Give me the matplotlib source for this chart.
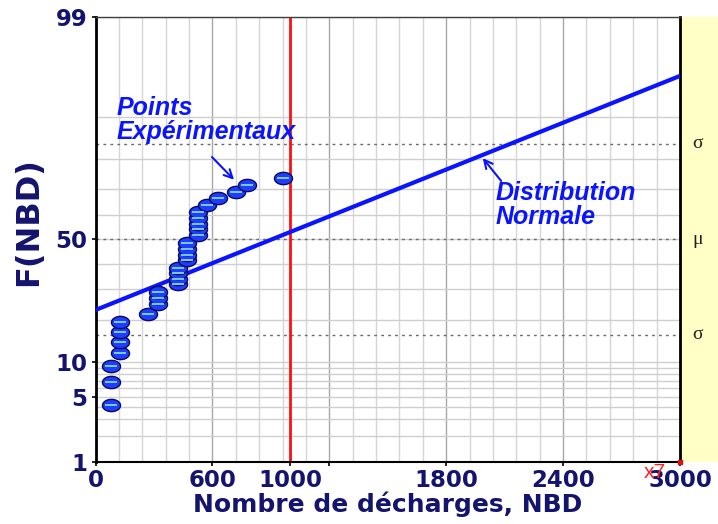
import math
import numpy as np
import matplotlib
matplotlib.use("Agg")
import matplotlib.pyplot as plt
from matplotlib.path import Path
from matplotlib.patches import Rectangle
from matplotlib.ticker import FixedLocator, MultipleLocator, NullFormatter

# experimental points (NBD, cumulative frequency in %)
nbd_points = [78, 78, 78, 126, 126, 126, 126, 271, 322, 322, 322,
              425, 425, 425, 425, 468, 468, 468, 468,
              528, 528, 528, 528, 528, 571, 630, 721, 776, 964]
freq_points = [4.2, 6.8, 9.3, 11.7, 14.1, 16.6, 19.3, 21.7, 24.9, 26.9, 29.2,
               32.0, 34.0, 36.1, 38.3, 41.4, 43.5, 45.8, 48.3,
               51.8, 54.1, 56.3, 58.7, 61.1, 64.0, 66.6, 69.0, 71.5, 73.8]

# fitted normal distribution (straight line on probability paper)
fit_nbd = [0, 3000]
fit_freq = [23.0, 95.6]

nbd_limit = 1000

x_ticks = [0, 600, 1000, 1200, 1800, 2400, 3000]
x_tick_labels = ["0", "600", "1000", "", "1800", "2400", "3000"]
y_ticks = [1, 5, 10, 50, 99]
y_minor = [2, 3, 4, 6, 7, 8, 9, 20, 30, 40, 60, 70, 80, 90]
ref_levels = [15.87, 50, 84.13]
ref_labels = ["σ", "μ", "σ"]

NAVY = "#14146e"
BLUE = "#0a14ff"


def ppf(p):
    # inverse normal cdf (Acklam), p in percent
    p = np.asarray(p, dtype=float)
    shape = p.shape
    p = np.clip(np.atleast_1d(p) / 100.0, 1e-12, 1 - 1e-12)
    a = [-3.969683028665376e+01, 2.209460984245205e+02, -2.759285104469687e+02,
         1.383577518672690e+02, -3.066479806614716e+01, 2.506628277459239e+00]
    b = [-5.447609879822406e+01, 1.615858368580409e+02, -1.556989798598866e+02,
         6.680131188771972e+01, -1.328068155288572e+01]
    c = [-7.784894002430293e-03, -3.223964580411365e-01, -2.400758277161838e+00,
         -2.549732539343734e+00, 4.374664141464968e+00, 2.938163982698783e+00]
    d = [7.784695709041462e-03, 3.224671290700398e-01, 2.445134137142996e+00,
         3.754408661907416e+00]
    plow = 0.02425
    z = np.empty_like(p)
    lo = p < plow
    hi = p > 1 - plow
    mid = ~(lo | hi)
    q = np.sqrt(-2 * np.log(p[lo]))
    z[lo] = (((((c[0]*q+c[1])*q+c[2])*q+c[3])*q+c[4])*q+c[5]) / ((((d[0]*q+d[1])*q+d[2])*q+d[3])*q+1)
    q = np.sqrt(-2 * np.log(1 - p[hi]))
    z[hi] = -(((((c[0]*q+c[1])*q+c[2])*q+c[3])*q+c[4])*q+c[5]) / ((((d[0]*q+d[1])*q+d[2])*q+d[3])*q+1)
    q = p[mid] - 0.5
    r = q * q
    z[mid] = (((((a[0]*r+a[1])*r+a[2])*r+a[3])*r+a[4])*r+a[5])*q / (((((b[0]*r+b[1])*r+b[2])*r+b[3])*r+b[4])*r+1)
    return z.reshape(shape)


_erf = np.vectorize(math.erf)


def cdf(z):
    z = np.asarray(z, dtype=float)
    return 50.0 * (1 + _erf(z / math.sqrt(2)))


def ellipse_marker():
    t = np.linspace(0, 2 * np.pi, 60)
    verts = np.column_stack([np.cos(t), 0.68 * np.sin(t)])
    return Path(verts, closed=True)


def main():
    fig = plt.figure(figsize=(7.18, 5.24), dpi=100)
    ax = fig.add_axes([95.5 / 718, 62 / 524, 584.5 / 718, 445.5 / 524])

    ax.set_xlim(0, 3000)
    ax.set_yscale("function", functions=(ppf, cdf))
    ax.set_ylim(1, 99)

    # grid
    ax.xaxis.set_major_locator(FixedLocator(x_ticks))
    ax.set_xticklabels(x_tick_labels)
    ax.xaxis.set_minor_locator(MultipleLocator(120))
    ax.yaxis.set_major_locator(FixedLocator(y_ticks))
    ax.set_yticklabels([str(v) for v in y_ticks])
    ax.yaxis.set_minor_locator(FixedLocator(y_minor))
    ax.yaxis.set_minor_formatter(NullFormatter())
    ax.grid(axis="x", which="minor", color="#d6d6d6", lw=1)
    ax.grid(axis="x", which="major", color="#a8a8a8", lw=1)
    ax.grid(axis="y", which="both", color="#cfcfcf", lw=1)
    ax.set_axisbelow(True)

    for lev in ref_levels:
        ax.axhline(lev, color="#6a6a6a", lw=1, ls=(0, (2, 3)), zorder=1.5)

    ax.axvline(nbd_limit, color="#ff1010", lw=2, zorder=2)

    # fitted line
    ax.plot(fit_nbd, fit_freq, color=BLUE, lw=3, zorder=3, solid_capstyle="butt")

    # experimental points
    ax.plot(nbd_points, freq_points, ls="none", marker=ellipse_marker(), markersize=13,
            markerfacecolor="#1f3cff", markeredgecolor="#0c0c5a", markeredgewidth=1, zorder=4)
    ax.plot(nbd_points, freq_points, ls="none", marker="_", markersize=8.5,
            markeredgecolor="#86e6ff", markeredgewidth=1.2, zorder=5)

    # annotations
    ax.text(0.036, 0.822, "Points\nExpérimentaux", transform=ax.transAxes, ha="left", va="top",
            color=BLUE, fontsize=18, fontweight="bold", fontstyle="italic",
            family="Liberation Sans", linespacing=1.0)
    ax.annotate("", xy=(0.2404, 0.629), xytext=(0.196, 0.689), xycoords="axes fraction",
                arrowprops=dict(arrowstyle="->,head_length=0.6,head_width=0.3", color=BLUE, lw=1.5))
    ax.text(0.685, 0.630, "Distribution\nNormale", transform=ax.transAxes, ha="left", va="top",
            color=BLUE, fontsize=18, fontweight="bold", fontstyle="italic",
            family="Liberation Sans", linespacing=1.0)
    ax.annotate("", xy=(0.6596, 0.687), xytext=(0.697, 0.626), xycoords="axes fraction",
                arrowprops=dict(arrowstyle="->,head_length=0.6,head_width=0.3", color=BLUE, lw=1.5))

    # yellow side panel with sigma / mu marks
    ax.add_patch(Rectangle((1, 0), 0.07, 1, transform=ax.transAxes, facecolor="#ffffc6",
                           edgecolor="none", clip_on=False, zorder=0))
    trans = ax.get_yaxis_transform()
    for lev, lab in zip(ref_levels, ref_labels):
        ax.text(1.03, lev, lab, transform=trans, ha="center", va="center",
                fontsize=14, family="Liberation Serif", color="#202020")

    ax.text(0.957, -0.002, "x7", transform=ax.transAxes, ha="center", va="top",
            color="#ff2020", fontsize=15, family="Liberation Sans", zorder=6)
    ax.plot([1], [0], "s", color="#e01010", markersize=3, transform=ax.transAxes, clip_on=False, zorder=6)

    # spines and ticks
    ax.spines["left"].set_linewidth(2)
    ax.spines["right"].set_linewidth(2)
    ax.spines["bottom"].set_linewidth(1.5)
    ax.spines["top"].set_color("#404040")
    ax.spines["top"].set_linewidth(1)
    ax.tick_params(axis="both", which="major", length=3, width=1.2, labelsize=16.5,
                   labelcolor=NAVY, pad=3)
    ax.tick_params(axis="x", which="major", pad=2)
    ax.tick_params(axis="both", which="minor", length=0)
    for lab in ax.get_xticklabels() + ax.get_yticklabels():
        lab.set_fontweight("bold")

    ax.set_xlabel("Nombre de décharges, NBD", fontsize=18, fontweight="bold", color=NAVY, labelpad=0)
    ax.set_ylabel("F(NBD)", fontsize=23, fontweight="bold", color=NAVY)
    ax.yaxis.set_label_coords(-0.088, 0.54)

    fig.savefig("out.png", dpi=100)


if __name__ == "__main__":
    main()
